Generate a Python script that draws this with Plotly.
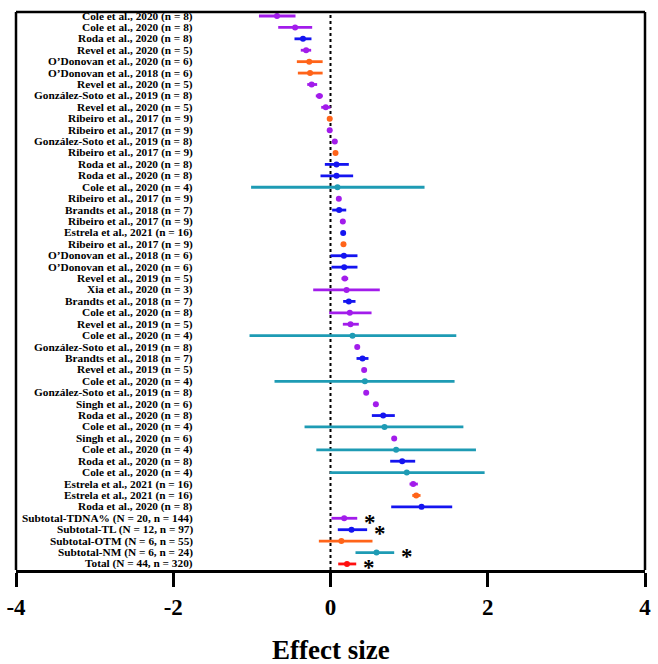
import plotly.graph_objects as go

labels = [
    "Cole et al., 2020 (n = 8)", "Cole et al., 2020 (n = 8)", "Roda et al., 2020 (n = 8)",
    "Revel et al., 2020 (n = 5)", "O’Donovan et al., 2020 (n = 6)", "O’Donovan et al., 2018 (n = 6)",
    "Revel et al., 2020 (n = 5)", "González-Soto et al., 2019 (n = 8)", "Revel et al., 2020 (n = 5)",
    "Ribeiro et al., 2017 (n = 9)", "Ribeiro et al., 2017 (n = 9)", "González-Soto et al., 2019 (n = 8)",
    "Ribeiro et al., 2017 (n = 9)", "Roda et al., 2020 (n = 8)", "Roda et al., 2020 (n = 8)",
    "Cole et al., 2020 (n = 4)", "Ribeiro et al., 2017 (n = 9)", "Brandts et al., 2018 (n = 7)",
    "Ribeiro et al., 2017 (n = 9)", "Estrela et al., 2021 (n = 16)", "Ribeiro et al., 2017 (n = 9)",
    "O’Donovan et al., 2018 (n = 6)", "O’Donovan et al., 2020 (n = 6)", "Revel et al., 2019 (n = 5)",
    "Xia et al., 2020 (n = 3)", "Brandts et al., 2018 (n = 7)", "Cole et al., 2020 (n = 8)",
    "Revel et al., 2019 (n = 5)", "Cole et al., 2020 (n = 4)", "González-Soto et al., 2019 (n = 8)",
    "Brandts et al., 2018 (n = 7)", "Revel et al., 2019 (n = 5)", "Cole et al., 2020 (n = 4)",
    "González-Soto et al., 2019 (n = 8)", "Singh et al., 2020 (n = 6)", "Roda et al., 2020 (n = 8)",
    "Cole et al., 2020 (n = 4)", "Singh et al., 2020 (n = 6)", "Cole et al., 2020 (n = 4)",
    "Roda et al., 2020 (n = 8)", "Cole et al., 2020 (n = 4)", "Estrela et al., 2021 (n = 16)",
    "Estrela et al., 2021 (n = 16)", "Roda et al., 2020 (n = 8)",
    "Subtotal-TDNA% (N = 20, n = 144)", "Subtotal-TL (N = 12, n = 97)",
    "Subtotal-OTM (N = 6, n = 55)", "Subtotal-NM (N = 6, n = 24)", "Total (N = 44, n = 320)",
]

groups = [
    "TDNA%", "TDNA%", "TL", "TDNA%", "OTM", "OTM", "TDNA%", "TDNA%", "TDNA%",
    "OTM", "TDNA%", "TDNA%", "OTM", "TL", "TL", "NM", "TDNA%", "TL",
    "TDNA%", "TL", "OTM", "TL", "TL", "TDNA%", "TDNA%", "TL", "TDNA%",
    "TDNA%", "NM", "TDNA%", "TL", "TDNA%", "NM", "TDNA%", "TDNA%", "TL",
    "NM", "TDNA%", "NM", "TL", "NM", "TDNA%", "OTM", "TL",
    "TDNA%", "TL", "OTM", "NM", "Total",
]

effect = [
    -0.68, -0.45, -0.35, -0.31, -0.27, -0.26, -0.24, -0.14, -0.06,
    -0.01, -0.01, 0.055, 0.064, 0.076, 0.076, 0.089, 0.106, 0.11,
    0.157, 0.161, 0.165, 0.17, 0.174, 0.182, 0.204, 0.233, 0.246,
    0.254, 0.28, 0.34, 0.407, 0.428, 0.437, 0.454, 0.577, 0.67,
    0.687, 0.81, 0.835, 0.912, 0.97, 1.052, 1.09, 1.158,
    0.174, 0.267, 0.138, 0.585, 0.21,
]

ci_low = [
    -0.91, -0.665, -0.458, -0.378, -0.428, -0.415, -0.296, -0.187, -0.118,
    -0.04, -0.03, 0.03, 0.05, -0.072, -0.127, -1.01, 0.09, 0.021,
    0.13, 0.15, 0.14, 0.0, 0.013, 0.14, -0.22, 0.161, -0.017,
    0.157, -1.03, 0.32, 0.331, 0.41, -0.712, 0.44, 0.56, 0.526,
    -0.33, 0.795, -0.18, 0.759, -0.008, 1.005, 1.04, 0.772,
    0.013, 0.093, -0.148, 0.318, 0.098,
]

ci_high = [
    -0.445, -0.233, -0.242, -0.246, -0.10, -0.10, -0.17, -0.098, 0.0,
    0.02, 0.015, 0.08, 0.08, 0.233, 0.288, 1.196, 0.12, 0.2,
    0.185, 0.175, 0.19, 0.343, 0.343, 0.225, 0.627, 0.318, 0.522,
    0.36, 1.6, 0.36, 0.483, 0.45, 1.578, 0.47, 0.595, 0.818,
    1.69, 0.825, 1.85, 1.077, 1.96, 1.111, 1.145, 1.548,
    0.34, 0.466, 0.534, 0.81, 0.327,
]

significant = [False] * 44 + [True, True, False, True, True]

group_colors = {
    "TDNA%": "#A21CEB",
    "TL": "#1414F0",
    "OTM": "#FF6419",
    "NM": "#1E9BB4",
    "Total": "#FF1010",
}

x_ticks = [-4, -2, 0, 2, 4]
x_title = "Effect size"

FONT = "Liberation Serif, Times New Roman, serif"
rows = list(range(1, len(labels) + 1))

fig = go.Figure()

for g in ["TDNA%", "TL", "OTM", "NM", "Total"]:
    idx = [i for i, gg in enumerate(groups) if gg == g]
    fig.add_trace(go.Scatter(
        x=[effect[i] for i in idx],
        y=[rows[i] for i in idx],
        mode="markers",
        marker=dict(color=group_colors[g], size=6, symbol="circle"),
        error_x=dict(
            type="data", symmetric=False,
            array=[ci_high[i] - effect[i] for i in idx],
            arrayminus=[effect[i] - ci_low[i] for i in idx],
            color=group_colors[g], thickness=2.8, width=0,
        ),
        showlegend=False,
        hoverinfo="skip",
    ))

# zero reference line
fig.add_shape(type="line", xref="x", yref="paper", x0=0, x1=0, y0=0, y1=1,
              line=dict(color="black", width=2, dash="dot"), layer="below")

# study labels
for r, lab in zip(rows, labels):
    fig.add_annotation(x=-1.72, y=r, xref="x", yref="y", text="<b>" + lab + "</b>", showarrow=False,
                       xanchor="right", yanchor="middle",
                       font=dict(family=FONT, size=11.3, color="black"))

# significance stars
for r, hi, sig in zip(rows, ci_high, significant):
    if sig:
        fig.add_annotation(x=hi, y=r, xref="x", yref="y", text="<b>*</b>", showarrow=False,
                           xanchor="left", yanchor="middle", xshift=5, yshift=-4,
                           font=dict(family=FONT, size=23, color="black"))

fig.add_annotation(x=0.5, y=0, xref="paper", yref="paper", text="<b>" + x_title + "</b>",
                   showarrow=False, yanchor="middle", yshift=-80,
                   font=dict(family=FONT, size=27, color="black"))

fig.update_xaxes(
    range=[-4, 4], tickvals=x_ticks, ticktext=["<b>%d</b>" % v for v in x_ticks],
    ticks="outside", ticklen=14, tickwidth=3, tickcolor="black",
    showline=True, linecolor="black", linewidth=3, mirror=False,
    showgrid=False, zeroline=False, automargin=False,
    tickfont=dict(family=FONT, size=23, color="black"),
)
fig.update_yaxes(
    range=[len(labels) + 0.53, 0.65], showticklabels=False, ticks="",
    showgrid=False, zeroline=False, showline=False, automargin=False,
)

# frame (top, left, right)
fig.add_shape(type="line", xref="paper", yref="paper", x0=0, x1=1, y0=1, y1=1,
              line=dict(color="black", width=2.5))
fig.add_shape(type="line", xref="paper", yref="paper", x0=0, x1=0, y0=0, y1=1,
              line=dict(color="black", width=2.5))
fig.add_shape(type="line", xref="paper", yref="paper", x0=1, x1=1, y0=0, y1=1,
              line=dict(color="black", width=2.5))

fig.update_layout(
    width=658, height=664,
    margin=dict(l=16, r=13, t=12, b=94, autoexpand=False),
    paper_bgcolor="white", plot_bgcolor="white",
    font=dict(family=FONT),
)

fig.write_html("out.html", config={"displayModeBar": False},
               post_script="document.body.style.margin='0px';")
